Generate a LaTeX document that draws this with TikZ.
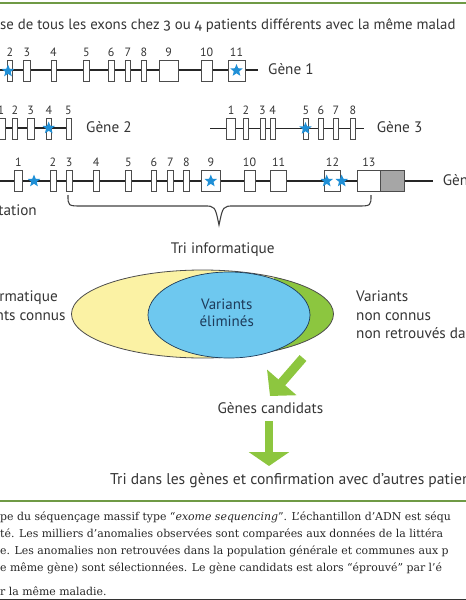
\documentclass[tikz,border=0pt]{standalone}
\usepackage{fontspec}
\setmainfont{PT Sans}
\newfontfamily\capfont{DejaVu Serif}
\newfontfamily\oldfig[Numbers=OldStyle]{Fira Sans}
\usetikzlibrary{calc}
\usetikzlibrary{shapes.geometric}
\usetikzlibrary{arrows.meta}
\definecolor{txtgray}{HTML}{353535}
\definecolor{sepgreen}{HTML}{6F9A45}
\definecolor{arrowgreen}{HTML}{8DC63F}
\definecolor{starblue}{HTML}{1F8FD6}
\definecolor{ellyellow}{HTML}{FBF2A4}
\definecolor{ellblue}{HTML}{6EC8EF}
\definecolor{ellgreen}{HTML}{8CC63F}
\definecolor{navy}{HTML}{1E3B5A}
\tikzstyle{every node}=[font=\fontsize{15.2}{18.3}\selectfont,text=txtgray]
\tikzstyle{geneline}=[line width=1.1pt,draw=black!85]
\tikzstyle{exon}=[rectangle,draw=black!70,line width=0.7pt,fill=white,minimum height=21pt,inner sep=0pt]
\tikzstyle{exonnum}=[font=\fontsize{12}{12}\selectfont,inner sep=0pt,label distance=3pt]
\tikzstyle{mut}=[star,star points=5,star point ratio=2.3,fill=starblue,minimum size=13pt,inner sep=0pt]
\tikzstyle{lbl}=[inner sep=0pt,anchor=base west]
\tikzstyle{lblr}=[inner sep=0pt,anchor=base east]
\tikzstyle{captext}=[inner sep=0pt,anchor=base west,font=\capfont\fontsize{10.9}{12}\selectfont,text=black!85]
\tikzstyle{sepline}=[line width=2pt,draw=sepgreen]
\newcommand{\exonrow}[2]{\foreach \n/\x/\w in {#2} {\node[exon,minimum width=\w pt,label={[exonnum]above:\n}] (#1\n) at (\x,\gy) {};}}

\begin{document}
\begin{tikzpicture}[x=1pt,y=-1pt]
	\tikzstyle{bigarrow}=[draw=arrowgreen,line cap=butt]
	\useasboundingbox (0,0) rectangle (466,600);
	\clip (0,0) rectangle (466,600);
	
	\draw[sepline] (0,3) -- (466,3);
	\node[lbl,font=\fontsize{14.8}{18}\selectfont] (title) at (0,29.5) {se de tous les exons chez {\oldfig 3} ou {\oldfig 4} patients différents avec la même malad};
	
	% gene 1
	\coordinate (ga-s) at (0,70);
	\coordinate (ga-e) at (258,70);
	\draw[geneline] (ga-s) -- (ga-e);
	\def\gy{70.5}
	\exonrow{ga}{2/10/5.5, 3/27/7, 4/53.5/5, 5/86.3/6, 6/111.2/5.7, 7/127.8/5.7, 8/144/5.3, 9/168.7/19.3, 10/206.7/11.3, 11/236.5/17}
	\node[mut] (mga2) at (8,71) {};
	\node[mut] (mga11) at (ga11) {};
	\node[lbl] (gene1) at (268,74) {Gène 1};
	
	% gene 2
	\coordinate (gb-s) at (0,128);
	\coordinate (gb-e) at (72,128);
	\draw[geneline] (gb-s) -- (gb-e);
	\def\gy{128.5}
	\exonrow{gb}{1/1/8, 2/14.8/5, 3/30.7/6.7, 4/48.8/5.7, 5/68.5/5}
	\node[mut] (mgb4) at (48.7,128) {};
	\node[lbl] (gene2) at (86,132.5) {Gène 2};
	
	% gene 3
	\coordinate (gc-s) at (210,128.3);
	\coordinate (gc-e) at (364,128.3);
	\draw[geneline] (gc-s) -- (gc-e);
	\def\gy{128.5}
	\exonrow{gc}{1/231.2/9, 2/245.8/5, 3/262.5/5, 4/272.7/5.3, 5/305.8/5, 6/321/4.7, 7/336/5.3, 8/352.8/5}
	\node[mut] (mgc5) at (305.5,128.5) {};
	\node[lbl] (gene3) at (376.7,132.5) {Gène 3};
	
	% gene 4
	\coordinate (gd-s) at (0,181);
	\coordinate (gd-e) at (433,181);
	\draw[geneline] (gd-s) -- (gd-e);
	\def\gy{181}
	\exonrow{gd}{1/18.3/8.7, 2/53/6, 3/69.2/6.3, 4/96.2/5.7, 5/128.3/5.3, 6/153.8/5.7, 7/170.5/5.7, 8/186.5/5.7, 9/210.8/18.3, 10/249.5/11, 11/278.7/16, 12/332.5/16.3, 13/368.8/22.3}
	\node[exon,fill=black!35,minimum width=24.3pt] (gd13b) at (392.2,181) {};
	\node[mut] (mgd1) at (34,181) {};
	\node[mut] (mgd9) at (gd9) {};
	\node[mut] (mgd12a) at (326.7,181) {};
	\node[mut] (mgd12b) at (341.7,181) {};
	\node[lbl] (gene4) at (442.7,185.5) {Gène};
	
	\node[lblr] (mut) at (37,215) {tation};
	
	% brace
	\draw[line width=1.1pt,draw=black!75] (68,195) .. controls (68,206) .. (82,206) -- (204,206) .. controls (215,206) .. (219,225) .. controls (223,206) .. (234,206) -- (357,206) .. controls (371,206) .. (371,195);
	\node[lbl] (tri) at (170.7,253.3) {Tri informatique};
	
	% filtering
	\node[ellipse,minimum width=262pt,minimum height=88pt,inner sep=0pt,fill=ellyellow,draw=black!70,line width=0.8pt,
		path picture={\fill[ellgreen] ($(path picture bounding box.north east)+(-60,-5)$) rectangle ($(path picture bounding box.south east)+(5,5)$);}] (allvar) at (202.5,314) {};
	\node[ellipse,minimum width=162pt,minimum height=86pt,inner sep=0pt,fill=ellblue,draw=navy,line width=0.7pt] (known) at (229,315) {};
	\node[align=center,text=navy,font=\fontsize{15}{16.8}\selectfont,anchor=base] (elim) at (226.7,326) {Variants\\éliminés};
	
	\node[lblr] (left1) at (58,301.7) {rmatique};
	\node[lblr] (left2) at (65.7,320) {nts connus};
	\node[lbl] (right1) at (356,301.7) {Variants};
	\node[lbl] (right2) at (356,320) {non connus};
	\node[lbl] (right3) at (356,338.3) {non retrouvés da};
	
	\coordinate (a1s) at (303,358);
	\coordinate (a1e) at (270,396);
	\draw[bigarrow,line width=9pt,-{Triangle[length=18pt,width=38pt]}] (a1s) -- (a1e);
	\node[lbl] (cand) at (217.3,413.3) {Gènes candidats};
	
	\coordinate (a2s) at (269,421);
	\coordinate (a2e) at (269,466);
	\draw[bigarrow,line width=8.5pt,-{Triangle[length=14pt,width=40pt]}] (a2s) -- (a2e);
	\node[lbl,font=\fontsize{15.6}{18}\selectfont] (final) at (110,484) {Tri dans les gènes et confirmation avec d’autres patien};
	
	\draw[sepline] (0,501) -- (466,501);
	
	% legend
	\node[captext] (c1) at (0,520) {pe du séquençage massif type “\textit{exome sequencing}”. L’échantillon d’ADN est séqu};
	\node[captext] (c2) at (0,537) {té. Les milliers d’anomalies observées sont comparées aux données de la littéra};
	\node[captext] (c3) at (0,554) {e. Les anomalies non retrouvées dans la population générale et communes aux p};
	\node[captext] (c4) at (0,571) {e même gène) sont sélectionnées. Le gène candidats est alors “éprouvé” par l’é};
	\node[captext] (c5) at (0,595) {r la même maladie.};
	\draw[line width=1.2pt,draw=black!80] (0,599.3) -- (466,599.3);
\end{tikzpicture}
\end{document}
